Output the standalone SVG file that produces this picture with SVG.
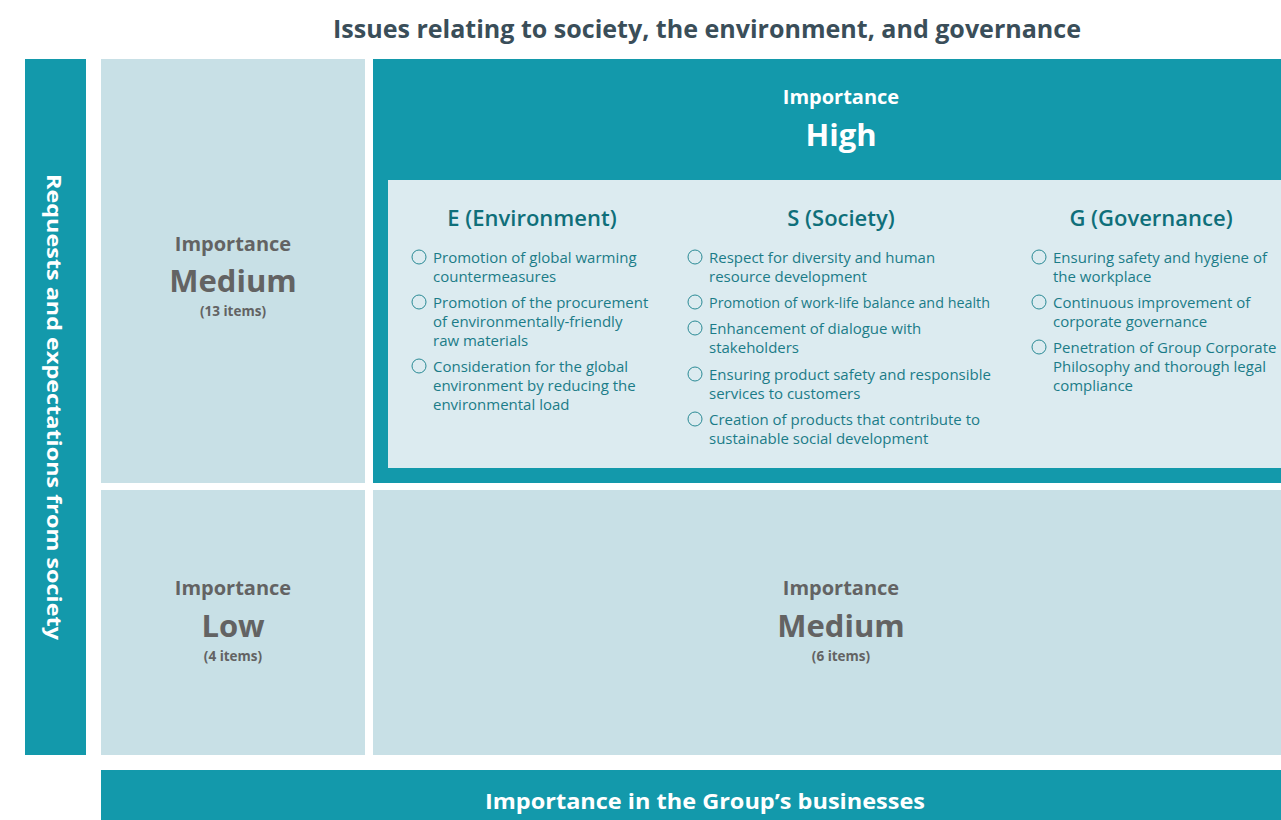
<svg xmlns="http://www.w3.org/2000/svg" width="1281" height="820" viewBox="0 0 1281 820">
<style>
  .teal{fill:#1399ab}
  .cell{fill:#c8e0e6}
  .inner{fill:#dcebf0}
  text{font-family:"Open Sans","Noto Sans",sans-serif}
  .title{font-size:25px;font-weight:700;fill:#3a4e59;text-anchor:middle}
  .wt{fill:#ffffff;font-weight:700;text-anchor:middle}
  .gray{fill:#636363;font-weight:700;text-anchor:middle}
  .imp{font-size:20px}
  .big{font-size:31px}
  .cnt{font-size:13.5px}
  .hdr{font-size:22px;font-weight:600;fill:#0f6f7a;text-anchor:middle}
  .it{font-size:15px;font-weight:400;fill:#1b7c88}
  .bul{fill:none;stroke:#2a8a95;stroke-width:1}
</style>
<rect width="1281" height="820" fill="#ffffff"/>
<text class="title" x="707" y="38" textLength="748" lengthAdjust="spacingAndGlyphs">Issues relating to society, the environment, and governance</text>

<g id="axis-y">
  <rect class="teal" x="25" y="59" width="61" height="696"/>
  <text class="wt" font-size="20" transform="translate(47,407) rotate(90)" text-anchor="middle" textLength="466" lengthAdjust="spacingAndGlyphs">Requests and expectations from society</text>
</g>

<g id="cell-medium-left">
  <rect class="cell" x="101" y="59" width="264" height="424"/>
  <text class="gray imp" x="233" y="251">Importance</text>
  <text class="gray big" x="233" y="292">Medium</text>
  <text class="gray cnt" x="233" y="316">(13 items)</text>
</g>

<g id="cell-high">
  <rect class="teal" x="373" y="59" width="908" height="424"/>
  <text class="wt imp" x="841" y="104">Importance</text>
  <text class="wt big" x="841" y="146">High</text>
  <rect class="inner" x="388" y="180" width="893" height="288"/>
</g>

<g id="col-e">
  <text class="hdr" x="532" y="226">E (Environment)</text>
  <circle class="bul" cx="419" cy="257" r="7"/>
  <text class="it" x="433" y="263">Promotion of global warming</text>
  <text class="it" x="433" y="282">countermeasures</text>
  <circle class="bul" cx="419" cy="302" r="7"/>
  <text class="it" x="433" y="308">Promotion of the procurement</text>
  <text class="it" x="433" y="327">of environmentally-friendly</text>
  <text class="it" x="433" y="346">raw materials</text>
  <circle class="bul" cx="419" cy="366" r="7"/>
  <text class="it" x="433" y="372">Consideration for the global</text>
  <text class="it" x="433" y="391">environment by reducing the</text>
  <text class="it" x="433" y="410">environmental load</text>
</g>

<g id="col-s">
  <text class="hdr" x="841" y="226">S (Society)</text>
  <circle class="bul" cx="695" cy="257" r="7"/>
  <text class="it" x="709" y="263">Respect for diversity and human</text>
  <text class="it" x="709" y="282">resource development</text>
  <circle class="bul" cx="695" cy="302" r="7"/>
  <text class="it" x="709" y="308" textLength="281" lengthAdjust="spacingAndGlyphs">Promotion of work-life balance and health</text>
  <circle class="bul" cx="695" cy="328" r="7"/>
  <text class="it" x="709" y="334">Enhancement of dialogue with</text>
  <text class="it" x="709" y="353">stakeholders</text>
  <circle class="bul" cx="695" cy="374" r="7"/>
  <text class="it" x="709" y="380">Ensuring product safety and responsible</text>
  <text class="it" x="709" y="399">services to customers</text>
  <circle class="bul" cx="695" cy="419" r="7"/>
  <text class="it" x="709" y="425">Creation of products that contribute to</text>
  <text class="it" x="709" y="444">sustainable social development</text>
</g>

<g id="col-g">
  <text class="hdr" x="1151" y="226">G (Governance)</text>
  <circle class="bul" cx="1039" cy="257" r="7"/>
  <text class="it" x="1053" y="263">Ensuring safety and hygiene of</text>
  <text class="it" x="1053" y="282">the workplace</text>
  <circle class="bul" cx="1039" cy="302" r="7"/>
  <text class="it" x="1053" y="308">Continuous improvement of</text>
  <text class="it" x="1053" y="327">corporate governance</text>
  <circle class="bul" cx="1039" cy="347" r="7"/>
  <text class="it" x="1053" y="353">Penetration of Group Corporate</text>
  <text class="it" x="1053" y="372">Philosophy and thorough legal</text>
  <text class="it" x="1053" y="391">compliance</text>
</g>

<g id="cell-low">
  <rect class="cell" x="101" y="490" width="264" height="265"/>
  <text class="gray imp" x="233" y="595">Importance</text>
  <text class="gray big" x="233" y="637">Low</text>
  <text class="gray cnt" x="233" y="661">(4 items)</text>
</g>

<g id="cell-medium-right">
  <rect class="cell" x="373" y="490" width="908" height="265"/>
  <text class="gray imp" x="841" y="595">Importance</text>
  <text class="gray big" x="841" y="637">Medium</text>
  <text class="gray cnt" x="841" y="661">(6 items)</text>
</g>

<g id="axis-x">
  <rect class="teal" x="101" y="770" width="1180" height="50"/>
  <text class="wt" font-size="22" x="705" y="809" textLength="440" lengthAdjust="spacingAndGlyphs">Importance in the Group’s businesses</text>
</g>

<g id="connectors"></g>
</svg>
